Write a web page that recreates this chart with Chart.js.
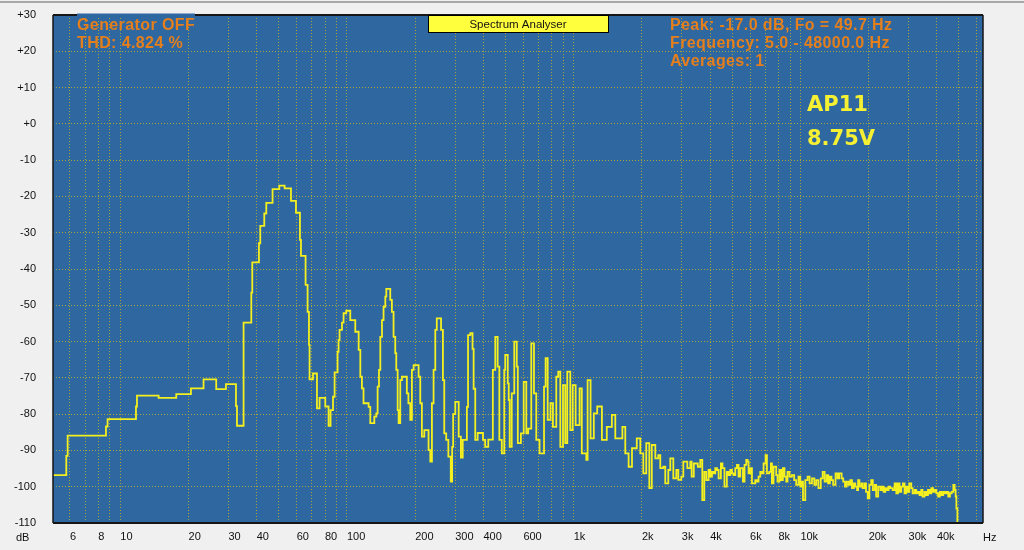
<!DOCTYPE html>
<html>
<head>
<meta charset="utf-8">
<script src="https://cdn.jsdelivr.net/npm/chart.js@4/dist/chart.umd.min.js"></script>
<style>
  html, body { margin: 0; padding: 0; background: #F0F0F0; }
  canvas { display: block; }
</style>
</head>
<body>
<canvas id="c" width="1024" height="550" style="width:1024px;height:550px"></canvas>
<script>
// ---- Spectrum trace: frequency (Hz) and level (dB), each level holds until the next frequency ----
const freqLow = [5, 5.78, 5.86, 8.65, 8.79, 11.73, 11.85, 14.76, 17.66, 20.5, 23.3, 26.5, 29.26, 32.39, 32.72,
  34.99, 37.84, 38.22, 40.9, 41.45, 43.17, 44.06, 46.97, 50.29, 53.07, 56.62, 59.57, 62.03, 62.67, 65.68,
  67.03, 67.98, 68.39, 70.79, 73.73, 75.7, 80.23, 82.95, 84.66, 86.78, 88.19, 90.9, 91.8, 92.75, 95.06, 96.6, 99.3];
const levelLow = [-96.8, -91.5, -85.9, -83.4, -81.4, -77.9, -74.9, -75.5, -74.5, -72.9, -70.4, -73.1, -71.7, -77.8, -83.2,
  -54.8, -46.5, -38.2, -32.9, -28.1, -24.7, -21.8, -18.0, -17.0, -17.8, -21.2, -24.5, -32.0, -36.4, -44.4,
  -51.8, -60.9, -70.4, -68.8, -78.4, -75.5, -77.9, -83.2, -78.9, -75.2, -68.5, -62.8, -59.6, -56.8, -54.8, -52.2, -51.5];

const freqMid = [103.4, 108.8, 112.6, 114.5, 116.4, 118.3, 124.6, 126.7, 132, 134.7, 136.5, 138.4, 140.3, 142.7, 145.0,
  147.6, 149.1, 155.2, 157.8, 160.5, 163.3, 165, 167.3, 169, 171.8, 174.7, 183.7, 186.6, 190.2, 193.4,
  196.8, 207, 210.5, 214, 219.3, 229, 233.1, 237, 241, 245.2, 249, 260, 265, 268.6, 274,
  280, 287, 291, 294, 300.4, 311, 318, 324, 338, 342, 350, 358, 362, 368, 377,
  398, 407, 420, 440, 451, 462, 470, 482, 494, 499, 512, 517, 522, 533, 547,
  561, 567, 585, 602, 618, 630, 650, 668, 684, 707, 740, 752, 768, 790, 810,
  838, 855, 873, 897, 918, 937, 966, 990, 1020, 1062, 1086, 1137, 1152, 1187, 1227,
  1270, 1332, 1400, 1474, 1526, 1640, 1689, 1747, 1808, 1898];
const levelMid = [-54.1, -57.3, -62.3, -69.7, -72.9, -77.0, -78.0, -82.5, -80.7, -79.8, -72.4, -67.8, -58.7, -54.1, -50.4,
  -47.6, -45.5, -48.5, -51.8, -58.7, -63.2, -67.8, -78.9, -82.5, -70.6, -69.7, -74.3, -77.0, -81.6, -67.8,
  -66.5, -69.7, -77.0, -86.2, -84.4, -89.9, -93.1, -77.0, -67.8, -56.8, -53.6, -56.8, -70.6, -85.3, -87.1,
  -91.7, -98.6, -89.0, -80.0, -76.6, -86.2, -92.0, -87.1, -78.0, -58.2, -57.7, -62.0, -73.0, -87.1, -85.2,
  -87.1, -89.0, -87.0, -67.8, -58.7, -66.9, -87.1, -90.8, -67.8, -63.7, -71.5, -76.1, -89.0, -74.3, -60.0,
  -66.9, -88.0, -85.3, -71.1, -85.3, -84.0, -60.5, -74.3, -87.1, -90.8, -72.4, -64.6, -81.6, -77.0, -83.5,
  -69.7, -68.3, -89.0, -72.0, -88.0, -68.3, -84.4, -72.0, -83.0, -72.9, -90.8, -92.6, -70.6, -86.7, -79.8,
  -77.9, -87.1, -83.5, -80.2, -86.7, -83.5, -90.8, -94.5, -89.4, -86.7];

const freqHigh = [1967, 2028, 2090, 2156, 2211, 2291, 2362, 2410, 2485, 2535, 2614, 2668, 2751, 2836, 2894,
  2983, 3045, 3171, 3269, 3313, 3387, 3528, 3618, 3692, 3768, 3845, 3935, 4004, 4074, 4143,
  4213, 4287, 4358, 4460, 4532, 4625, 4738, 4814, 4906, 4990, 5075, 5162, 5250, 5335, 5430,
  5580, 5671, 5771, 5848, 5907, 6012, 6114, 6324, 6432, 6537, 6654, 6767, 6881, 7021, 7120,
  7288, 7413, 7489, 7612, 7822, 7926, 8088, 8230, 8371, 8509, 8660, 8774, 8954, 9175, 9388,
  9580, 9808, 9990, 10170, 10270, 10510, 10760, 10980, 11250, 11520, 11750, 12010, 12300, 12540, 12790,
  13050, 13260, 13490, 13720, 13950, 14290, 14580, 14830, 15200, 15450, 15730, 16000, 16310, 16600, 16890,
  17200, 17470, 17790, 17970, 18210, 18580, 18820, 19210, 19480, 19820, 20160, 20530, 20870, 21290, 21590,
  22030, 22520, 22900, 23280, 23690, 24100, 24510, 24930, 25520, 26040, 26490, 26940, 27380, 27860, 28340,
  28800, 29310, 29820, 30230, 30840, 31260, 31890, 32450, 33010, 33550, 34120, 34580, 35290, 35900, 36530,
  37170, 37810, 38470, 39120, 39800, 40490, 41220, 41920, 42650, 43380, 44140, 44900, 45690, 46470, 47280,
  47900, 48400, 48770, 49260];
const levelHigh = [-90.8, -96.3, -88.0, -100.4, -88.5, -92.2, -91.3, -94.9, -94.5, -99.1, -95.4, -92.2, -97.7, -95.4, -98.1,
  -97.2, -93.1, -94.9, -93.1, -97.2, -93.6, -94.5, -92.6, -103.7, -95.9, -98.2, -95.4, -97.2, -95.9, -96.3,
  -94.9, -95.4, -97.7, -93.6, -94.9, -100.0, -95.9, -96.8, -95.4, -96.3, -96.8, -94.9, -94.0, -97.2, -94.9,
  -98.6, -94.0, -92.6, -93.1, -96.3, -94.9, -99.1, -98.2, -98.6, -97.2, -95.9, -96.3, -93.6, -91.3, -96.3,
  -95.9, -93.6, -99.1, -94.5, -96.8, -98.6, -95.4, -98.2, -94.9, -97.2, -98.6, -95.9, -97.2, -96.8, -98.2,
  -99.5, -97.2, -100.0, -98.6, -103.7, -98.2, -97.2, -99.1, -97.7, -99.5, -98.2, -100.4, -97.7, -95.9, -98.6,
  -96.8, -99.1, -97.2, -98.2, -99.5, -96.3, -97.7, -96.3, -97.7, -98.6, -100.0, -98.6, -99.5, -98.2, -100.4,
  -99.1, -100.0, -100.9, -98.2, -100.0, -99.1, -100.4, -99.1, -101.4, -103.2, -99.5, -98.2, -100.9, -99.5, -102.7,
  -100.0, -100.9, -100.0, -101.4, -100.4, -100.9, -100.0, -100.4, -100.9, -99.1, -101.8, -99.1, -101.4, -100.0, -99.1,
  -101.8, -100.0, -101.4, -99.1, -100.4, -101.8, -100.9, -101.8, -101.4, -102.3, -100.9, -102.7, -101.4, -102.3, -100.9,
  -101.8, -100.4, -101.4, -100.9, -101.8, -102.7, -101.4, -102.3, -101.4, -101.8, -101.4, -102.7, -101.8, -101.4, -99.5,
  -100.9, -102.7, -106.0, -115.0];

// ---- Axis ticks ----
const xGridHz = [6, 7, 8, 9, 10, 20, 30, 40, 50, 60, 70, 80, 90, 100, 200, 300, 400, 500, 600, 700, 800, 900,
  1000, 2000, 3000, 4000, 5000, 6000, 7000, 8000, 9000, 10000, 20000, 30000, 40000, 50000, 60000];
const xTickHz = [6, 8, 10, 20, 30, 40, 60, 80, 100, 200, 300, 400, 600, 1000, 2000, 3000, 4000, 6000, 8000, 10000, 20000, 30000, 40000];
const xTickLabels = ['6', '8', '10', '20', '30', '40', '60', '80', '100', '200', '300', '400', '600', '1k', '2k', '3k', '4k', '6k', '8k', '10k', '20k', '30k', '40k'];
const yTickDb = [30, 20, 10, 0, -10, -20, -30, -40, -50, -60, -70, -80, -90, -100, -110];
const yTickLabels = ['+30', '+20', '+10', '+0', '-10', '-20', '-30', '-40', '-50', '-60', '-70', '-80', '-90', '-100', '-110'];

// ---- Overlay texts ----
const leftInfo = ['Generator OFF', 'THD: 4.824 %'];
const rightInfo = ['Peak: -17.0 dB, Fo = 49.7 Hz', 'Frequency: 5.0 - 48000.0 Hz', 'Averages: 1'];
const titleText = 'Spectrum Analyser';
const noteText = ['AP11', '8.75V'];
const xUnit = 'Hz';
const yUnit = 'dB';

const freqHz = freqLow.concat(freqMid, freqHigh);
const levelDb = levelLow.concat(levelMid, levelHigh);
const points = freqHz.map((f, i) => ({ x: f, y: levelDb[i] }));

const PLOT_BG = '#2F67A1';
const GRID = '#A6A43C';
const ORANGE = '#E47F1C';

const decor = {
  id: 'decor',
  beforeDraw(chart) {
    const { ctx, chartArea: a } = chart;
    ctx.save();
    ctx.fillStyle = '#F0F0F0';
    ctx.fillRect(0, 0, chart.width, chart.height);
    ctx.fillStyle = '#A8A8A8';
    ctx.fillRect(0, 1, chart.width, 2);
    ctx.fillStyle = PLOT_BG;
    ctx.fillRect(a.left, a.top, a.right - a.left, a.bottom - a.top);
    ctx.restore();
  },
  afterDraw(chart) {
    const { ctx, chartArea: a } = chart;
    ctx.save();
    // frame
    ctx.strokeStyle = '#161616';
    ctx.lineWidth = 2;
    ctx.beginPath();
    ctx.moveTo(a.left, a.top); ctx.lineTo(a.right, a.top);
    ctx.moveTo(a.left, a.bottom); ctx.lineTo(a.right, a.bottom);
    ctx.stroke();
    ctx.lineWidth = 1.5;
    ctx.beginPath();
    ctx.moveTo(a.right, a.top); ctx.lineTo(a.right, a.bottom);
    ctx.moveTo(a.left, a.top); ctx.lineTo(a.left, a.bottom);
    ctx.stroke();
    // text patch over top frame behind left info
    ctx.fillStyle = PLOT_BG;
    ctx.fillRect(77, a.top - 1.5, 118, 3);

    // left/right info text
    ctx.fillStyle = ORANGE;
    ctx.font = 'bold 16px "Liberation Sans", Arial, sans-serif';
    if ('letterSpacing' in ctx) ctx.letterSpacing = '0.4px';
    ctx.textAlign = 'left';
    ctx.textBaseline = 'alphabetic';
    leftInfo.forEach((t, i) => ctx.fillText(t, 77, 30 + i * 18));
    rightInfo.forEach((t, i) => ctx.fillText(t, 670, 30 + i * 18));
    if ('letterSpacing' in ctx) ctx.letterSpacing = '0px';

    // title box
    ctx.fillStyle = '#FFFF3E';
    ctx.fillRect(428, 15, 180, 17);
    ctx.strokeStyle = '#000';
    ctx.lineWidth = 1;
    ctx.strokeRect(428.5, 15.5, 180, 17);
    ctx.fillStyle = '#111';
    ctx.font = '11.5px "Liberation Sans", Arial, sans-serif';
    ctx.textAlign = 'center';
    ctx.fillText(titleText, 518, 28);

    // note
    ctx.fillStyle = '#F6F032';
    ctx.font = 'bold 21px "DejaVu Sans", sans-serif';
    ctx.textAlign = 'left';
    noteText.forEach((t, i) => ctx.fillText(t, 807, 111 + i * 34));

    // units
    ctx.fillStyle = '#111';
    ctx.font = '11px "Liberation Sans", Arial, sans-serif';
    ctx.fillText(yUnit, 16, a.bottom + 18);
    ctx.fillText(xUnit, a.right, a.bottom + 18);
    ctx.restore();
  }
};

new Chart(document.getElementById('c'), {
  type: 'line',
  data: {
    datasets: [{
      data: points,
      borderColor: '#F4EF1E',
      borderWidth: 1.8,
      pointRadius: 0,
      stepped: 'before',
      fill: false,
      tension: 0
    }]
  },
  options: {
    responsive: false,
    animation: false,
    devicePixelRatio: 1,
    layout: { padding: { left: 0, right: 41, top: 15, bottom: 0 } },
    plugins: { legend: { display: false }, tooltip: { enabled: false } },
    scales: {
      x: {
        type: 'logarithmic',
        min: 5.05,
        max: 63900,
        afterBuildTicks: s => { s.ticks = xGridHz.map(v => ({ value: v })); },
        afterFit: s => { s.height = 27; },
        ticks: {
          autoSkip: false, maxRotation: 0, minRotation: 0, align: 'start', padding: 7,
          color: '#111', font: { family: 'Liberation Sans', size: 11 },
          callback: (v) => { const i = xTickHz.indexOf(v); return i >= 0 ? xTickLabels[i] : ''; }
        },
        grid: { color: GRID, lineWidth: 1, drawTicks: false },
        border: { display: false, dash: [1, 2] }
      },
      y: {
        min: -110,
        max: 30,
        afterBuildTicks: s => { s.ticks = yTickDb.map(v => ({ value: v })); },
        afterFit: s => { s.width = 53; },
        ticks: {
          padding: 0, color: '#111', font: { family: 'Liberation Sans', size: 11 },
          callback: (v) => { const i = yTickDb.indexOf(v); return i >= 0 ? yTickLabels[i] : ''; }
        },
        grid: { color: GRID, lineWidth: 1, drawTicks: true, tickLength: 17, tickColor: 'rgba(0,0,0,0)' },
        border: { display: false, dash: [1, 2] }
      }
    }
  },
  plugins: [decor]
});
</script>
</body>
</html>
